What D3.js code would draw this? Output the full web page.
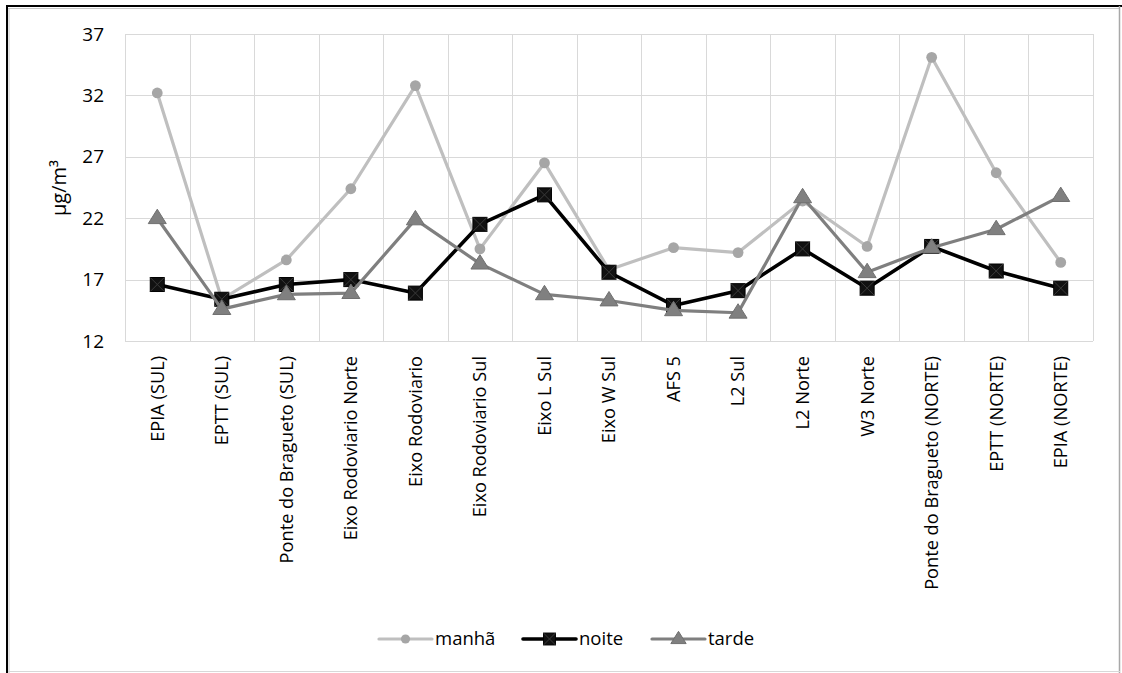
<!DOCTYPE html>
<html>
<head>
<meta charset="utf-8">
<script src="https://cdn.jsdelivr.net/npm/d3@7"></script>
<style>
  html, body { margin: 0; padding: 0; background: #fff; }
  svg { display: block; }
  text { font-family: "Open Sans", "Liberation Sans", sans-serif; fill: #000; }
</style>
</head>
<body>
<svg id="chart" width="1122" height="673"></svg>
<script>
// Monitoring points along the route
const categories = [
  "EPIA (SUL)", "EPTT (SUL)", "Ponte do Bragueto (SUL)", "Eixo Rodoviario Norte",
  "Eixo Rodoviario", "Eixo Rodoviario Sul", "Eixo L Sul", "Eixo W Sul", "AFS 5",
  "L2 Sul", "L2 Norte", "W3 Norte", "Ponte do Bragueto (NORTE)", "EPTT (NORTE)", "EPIA (NORTE)"
];

// Concentrations (µg/m³) per period of the day
const manha = [32.2, 15.4, 18.6, 24.4, 32.8, 19.5, 26.5, 17.8, 19.6, 19.2, 23.4, 19.7, 35.1, 25.7, 18.4];
const noite = [16.6, 15.4, 16.6, 17.0, 15.9, 21.5, 23.9, 17.6, 14.9, 16.1, 19.5, 16.3, 19.7, 17.7, 16.3];
const tarde = [22.0, 14.6, 15.8, 15.9, 21.9, 18.3, 15.8, 15.3, 14.5, 14.3, 23.7, 17.6, 19.6, 21.1, 23.8];

const yTicks = [12, 17, 22, 27, 32, 37];
const seriesNames = ["manhã", "noite", "tarde"];

const svg = d3.select("#chart");

// Outer frame
svg.append("line").attr("x1", 7).attr("x2", 1122).attr("y1", 6).attr("y2", 6)
  .attr("stroke", "#000").attr("stroke-width", 2);
svg.append("line").attr("x1", 7).attr("x2", 1120).attr("y1", 8.5).attr("y2", 8.5)
  .attr("stroke", "#c8c8c8").attr("stroke-width", 1);
svg.append("line").attr("x1", 7).attr("x2", 7).attr("y1", 5).attr("y2", 673)
  .attr("stroke", "#000").attr("stroke-width", 2);
svg.append("line").attr("x1", 9).attr("x2", 9).attr("y1", 8).attr("y2", 673)
  .attr("stroke", "#c8c8c8").attr("stroke-width", 1);
svg.append("line").attr("x1", 1119.5).attr("x2", 1119.5).attr("y1", 6).attr("y2", 673)
  .attr("stroke", "#a8a8a8").attr("stroke-width", 1.5);
svg.append("line").attr("x1", 8).attr("x2", 1120).attr("y1", 671.5).attr("y2", 671.5)
  .attr("stroke", "#d8d8d8").attr("stroke-width", 1);

const plot = { left: 125, right: 1093, top: 34, bottom: 341 };

const x = d3.scaleBand().domain(categories).range([plot.left, plot.right]).paddingInner(0).paddingOuter(0);
const y = d3.scaleLinear().domain([12, 37]).range([plot.bottom, plot.top]);
const cx = d => x(d) + x.bandwidth() / 2;

// Horizontal gridlines
const g = svg.append("g");
g.selectAll("line.h").data(yTicks).join("line")
  .attr("x1", plot.left).attr("x2", plot.right)
  .attr("y1", d => Math.round(y(d)) + 0.5).attr("y2", d => Math.round(y(d)) + 0.5)
  .attr("stroke", "#d9d9d9").attr("stroke-width", 1);

// Vertical gridlines at category boundaries
const bounds = categories.map(c => x(c)).concat([plot.right]);
g.selectAll("line.v").data(bounds).join("line")
  .attr("x1", d => Math.round(d) + 0.5).attr("x2", d => Math.round(d) + 0.5)
  .attr("y1", plot.top).attr("y2", plot.bottom)
  .attr("stroke", "#d9d9d9").attr("stroke-width", 1);

// Y axis labels
const yAxis = d3.axisLeft(y).tickValues(yTicks).tickSize(0).tickPadding(0);
const ya = svg.append("g").attr("transform", `translate(104,0)`).call(yAxis);
ya.select(".domain").remove();
ya.selectAll("text").attr("font-size", 19).attr("fill", "#262626")
  .style("font-family", "'Open Sans', sans-serif");

// Y axis title
svg.append("text")
  .attr("transform", `translate(66,188) rotate(-90)`)
  .attr("text-anchor", "middle")
  .attr("font-size", 20)
  .text("µg/m³");

// X axis labels, rotated
const xAxis = d3.axisBottom(x).tickSize(0).tickPadding(0);
const xa = svg.append("g").attr("transform", `translate(0,${plot.bottom})`).call(xAxis);
xa.select(".domain").remove();
xa.selectAll("text")
  .attr("font-size", 18.2).attr("fill", "#000")
  .style("font-family", "'Open Sans', sans-serif")
  .attr("text-anchor", "end")
  .attr("dy", "0.35em")
  .attr("transform", "translate(0,15) rotate(-90)")
  .attr("x", 0).attr("y", 0);

// Series styling
const styles = {
  "manhã": { line: "#bfbfbf", marker: "#a6a6a6", width: 3.2, shape: "circle", values: manha },
  "noite": { line: "#000000", marker: "#000000", width: 3.6, shape: "square", values: noite },
  "tarde": { line: "#7f7f7f", marker: "#808080", width: 3.2, shape: "triangle", values: tarde }
};

const lineGen = d3.line().x(d => cx(d.c)).y(d => y(d.v));

function drawMarker(sel, shape, color, px, py, scale) {
  const s = scale || 1;
  if (shape === "circle") {
    sel.append("circle").attr("cx", px).attr("cy", py).attr("r", 5.4 * s).attr("fill", color);
  } else if (shape === "square") {
    const h = 7 * s;
    sel.append("rect").attr("x", px - h).attr("y", py - h).attr("width", 2 * h).attr("height", 2 * h)
      .attr("fill", "#111").attr("stroke", "#000").attr("stroke-width", 1);
    sel.append("path").attr("d", `M${px - h},${py - h}L${px + h},${py + h}M${px + h},${py - h}L${px - h},${py + h}`)
      .attr("stroke", "#3a3a3a").attr("stroke-width", 1);
  } else {
    const h = 9 * s;
    sel.append("path")
      .attr("d", `M${px},${py - h}L${px + h},${py + h * 0.6}L${px - h},${py + h * 0.6}Z`)
      .attr("fill", color).attr("stroke", "#707070").attr("stroke-width", 1);
  }
}

seriesNames.forEach(name => {
  const st = styles[name];
  const pts = categories.map((c, i) => ({ c, v: st.values[i] }));
  const grp = svg.append("g");
  grp.append("path").datum(pts).attr("d", lineGen)
    .attr("fill", "none").attr("stroke", st.line).attr("stroke-width", st.width)
    .attr("stroke-linejoin", "round");
  pts.forEach(p => drawMarker(grp, st.shape, st.marker, cx(p.c), y(p.v)));
});

// Legend
const legendItems = [
  { name: "manhã", x0: 379 },
  { name: "noite", x0: 523 },
  { name: "tarde", x0: 652 }
];
const ly = 639;
legendItems.forEach(it => {
  const st = styles[it.name];
  const lg = svg.append("g");
  lg.append("line").attr("x1", it.x0).attr("x2", it.x0 + 53).attr("y1", ly).attr("y2", ly)
    .attr("stroke", st.line).attr("stroke-width", st.width).attr("stroke-linecap", "round");
  drawMarker(lg, st.shape, st.marker, it.x0 + 26.5, ly, 0.85);
  lg.append("text").attr("x", it.x0 + 56).attr("y", ly).attr("dy", "0.35em")
    .attr("font-size", 18.5).attr("fill", "#262626").text(it.name);
});
</script>
</body>
</html>
